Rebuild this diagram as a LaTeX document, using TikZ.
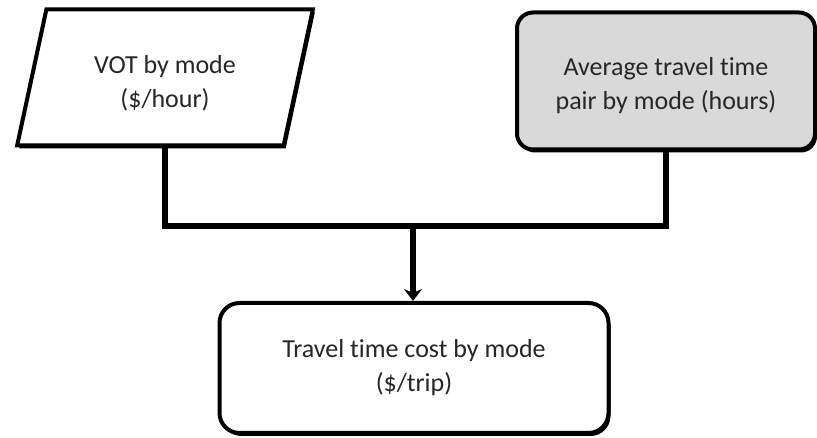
\documentclass[tikz,border=0pt]{standalone}
\usepackage{fontspec}
\setmainfont{Carlito}[Ligatures=NoCommon]
\usetikzlibrary{shapes.geometric,arrows.meta,shadows}
\begin{document}
\begin{tikzpicture}[x=1pt,y=1pt,
  boxtext/.style={align=center,text=black!85,font=\fontsize{26}{34}\selectfont},
  shadowed/.style={drop shadow={shadow xshift=2pt,shadow yshift=-3pt,fill=black,opacity=1}},
  inputbox/.style={boxtext,shape=trapezium,trapezium left angle=76,trapezium right angle=104,
    trapezium stretches=true,minimum width=296pt,minimum height=136pt,
    draw=black,line width=4pt,fill=white,shadowed},
  roundbox/.style={boxtext,rectangle,rounded corners=16pt,draw=black,line width=4pt,shadowed},
  link/.style={line width=6pt,draw=black}
]
\useasboundingbox (0,0) rectangle (817,438);
\node[inputbox,text height=63pt] (vot) at (165,360.5) {VOT by mode\\(\$/hour)};
\node[roundbox,fill=black!15,minimum width=298pt,minimum height=137pt,text height=62pt] (tt) at (666,357) {Average travel time\\pair by mode (hours)};
\node[roundbox,fill=white,rounded corners=20pt,minimum width=389pt,minimum height=130pt] (cost) at (414,70) {Travel time cost by mode\\(\$/trip)};
\coordinate (join) at (413,211.5);
\draw[link] (vot.south) |- (join) -| (tt.south);
\draw[link,-{Stealth[width=18pt,length=12pt]}] (join) -- (join |- cost.north);
\end{tikzpicture}
\end{document}
